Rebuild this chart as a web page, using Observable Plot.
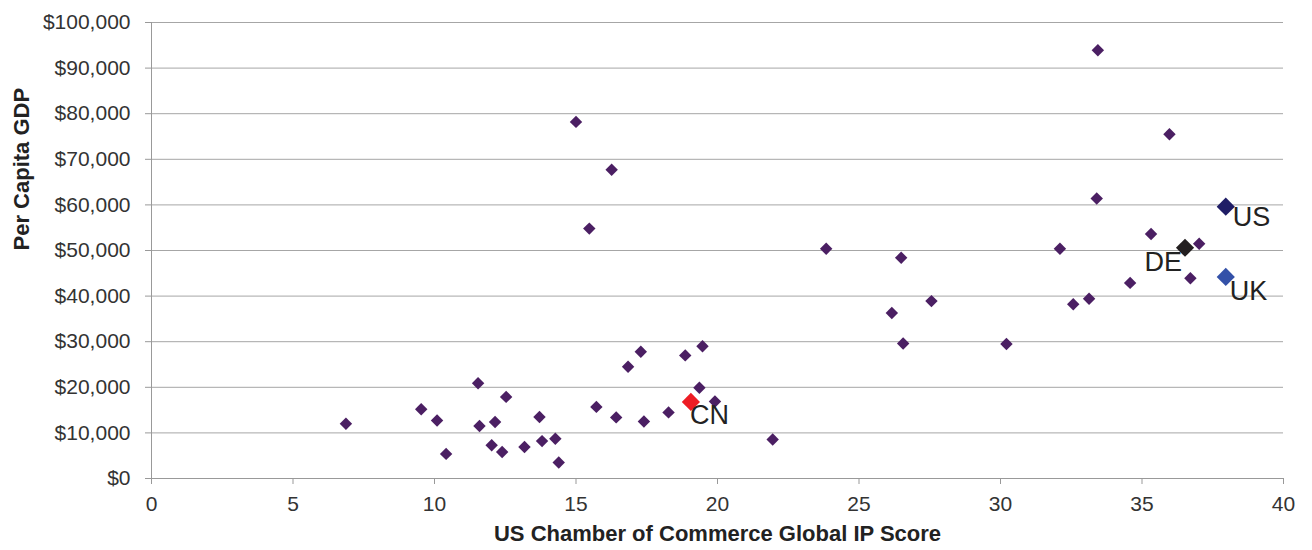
<!DOCTYPE html>
<html>
<head>
<meta charset="utf-8">
<script src="https://cdn.jsdelivr.net/npm/d3@7"></script>
<script src="https://cdn.jsdelivr.net/npm/@observablehq/plot@0.6"></script>
<style>
  html, body { margin: 0; padding: 0; background: #fff; }
</style>
</head>
<body>
<div id="chart"></div>
<script>
// Other countries: IP score and per capita GDP
const scores = [6.87, 9.53, 10.09, 10.41, 11.54, 11.59, 12.14, 12.02, 12.39, 12.53, 13.18, 13.71, 13.80, 14.27, 14.39,
  15.72, 16.42, 16.84, 17.29, 17.40, 18.27, 18.86, 19.36, 19.47, 19.91, 21.95,
  15.00, 16.26, 15.47, 23.84,
  33.44, 35.97, 33.40, 35.32, 37.02, 32.10, 26.49,
  34.58, 36.71, 32.57, 33.13, 27.56, 26.16, 26.56, 30.21];
const gdp = [12000, 15200, 12700, 5400, 20900, 11500, 12400, 7300, 5800, 17900, 6900, 13500, 8200, 8700, 3500,
  15700, 13400, 24500, 27800, 12500, 14500, 27000, 19900, 29000, 16900, 8550,
  78200, 67700, 54800, 50400,
  93900, 75500, 61400, 53600, 51500, 50400, 48400,
  42900, 43900, 38200, 39400, 38900, 36300, 29600, 29500];

// Highlighted countries
const hlLabels = ["US", "DE", "UK", "CN"];
const hlScores = [37.96, 36.52, 37.96, 19.06];
const hlGdp = [59600, 50600, 44200, 16800];
const hlColors = ["#1f1d66", "#231f20", "#3451a8", "#ed1c24"];

const xTicks = [0, 5, 10, 15, 20, 25, 30, 35, 40];
const yTicks = [0, 10000, 20000, 30000, 40000, 50000, 60000, 70000, 80000, 90000, 100000];
const xTitle = "US Chamber of Commerce Global IP Score";
const yTitle = "Per Capita GDP";

const others = scores.map((s, i) => ({score: s, gdp: gdp[i]}));
const hl = hlLabels.map((l, i) => ({label: l, score: hlScores[i], gdp: hlGdp[i], color: hlColors[i]}));
const labelOffsets = {US: [7, 11, "start"], DE: [-3, 15, "end"], UK: [4, 14, "start"], CN: [-1, 13, "start"]};

const font = "'Liberation Sans', Arial, sans-serif";

const chart = Plot.plot({
  width: 1312,
  height: 550,
  marginLeft: 151,
  marginRight: 29,
  marginTop: 22,
  marginBottom: 72,
  style: {fontFamily: font, fontSize: "21px", color: "#333", background: "#fff"},
  x: {domain: [0, 40]},
  y: {domain: [0, 100000]},
  marks: [
    Plot.gridY(yTicks, {stroke: "#a6a6a6", strokeOpacity: 1, strokeWidth: 1}),
    Plot.axisY(yTicks, {tickSize: 6, tickPadding: 15, stroke: "#999", fill: "#333", fontSize: 21, tickFormat: d => "$" + d3.format(",")(d), label: null}),
    Plot.axisX(xTicks, {tickSize: 6, tickPadding: 12, stroke: "#999", fill: "#333", fontSize: 21, label: null}),
    Plot.ruleX([0], {stroke: "#999"}),
    Plot.ruleY([0], {stroke: "#999"}),
    Plot.dot(others, {x: "score", y: "gdp", symbol: "diamond2", r: 5.6, fill: "#4b1f63", stroke: "none"}),
    Plot.dot(hl, {x: "score", y: "gdp", symbol: "diamond2", r: 8.2, fill: "color", stroke: "none"}),
    ...hl.map(d => Plot.text([d], {
      x: "score", y: "gdp", text: "label",
      dx: labelOffsets[d.label][0], dy: labelOffsets[d.label][1], textAnchor: labelOffsets[d.label][2],
      fontSize: 27, fill: "#222", fontFamily: font
    })),
    Plot.text([xTitle], {frameAnchor: "bottom", dy: 62, fontSize: 22, fontWeight: "bold", fill: "#222", fontFamily: font}),
    Plot.text([yTitle], {frameAnchor: "left", dx: -130, rotate: -90, fontSize: 22, fontWeight: "bold", fill: "#222", fontFamily: font})
  ]
});
document.getElementById("chart").appendChild(chart);
</script>
</body>
</html>
